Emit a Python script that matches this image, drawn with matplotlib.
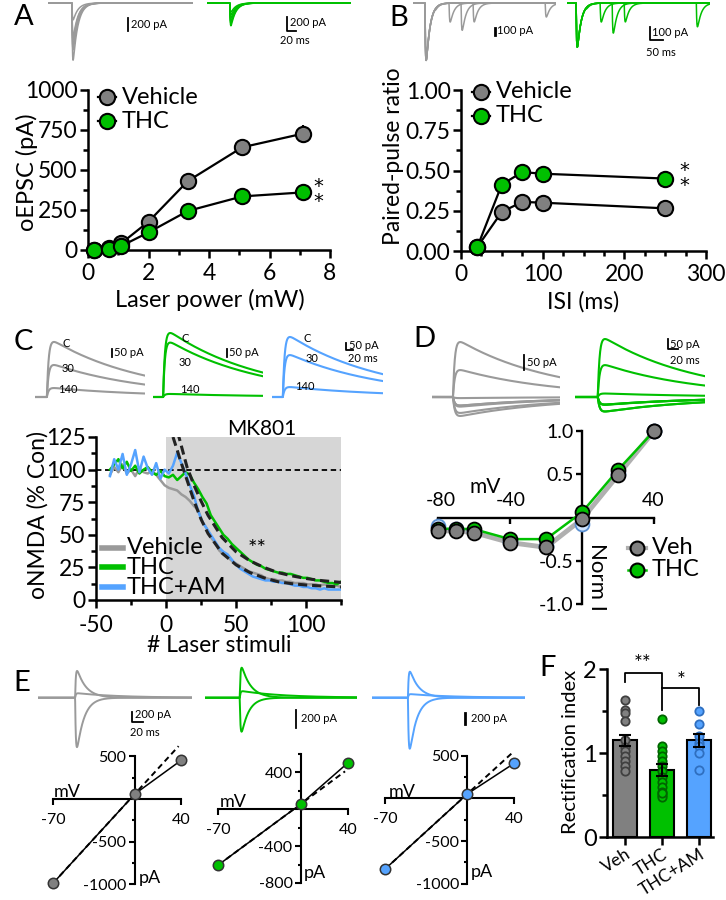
import numpy as np
import matplotlib.pyplot as plt
from matplotlib.lines import Line2D

plt.rcParams['font.family'] = ['Lato', 'DejaVu Sans']
plt.rcParams['axes.unicode_minus'] = False

GRAY = '#808080'
GRAY_TR = '#9a9a9a'
GREEN = '#00c000'
BLUE = '#55a3ff'

# ---------------- data ----------------
# A: oEPSC vs laser power
power = [0.2, 0.7, 1.1, 2.0, 3.3, 5.1, 7.1]
veh_oepsc = [0, 10, 42, 177, 431, 642, 727]
veh_oepsc_err = [0, 3, 8, 18, 22, 28, 55]
thc_oepsc = [0, 8, 25, 110, 244, 335, 360]
thc_oepsc_err = [0, 2, 5, 10, 15, 18, 22]
a_veh_tr = [-880, -720, -680, -570, -520, -260]   # example traces (pA)
a_thc_tr = [-350, -310, -280, -230, -185, -140]

# B: paired-pulse ratio
isi = [20, 50, 75, 100, 250]
veh_ppr = [0.025, 0.243, 0.305, 0.30, 0.265]
thc_ppr = [0.025, 0.413, 0.49, 0.48, 0.45]
b_veh_p1 = -820
b_thc_p1 = -630
b_veh_p2 = [-20, -270, -390, -270, -200]
b_thc_p2 = [-20, -270, -430, -270, -340]

# C: MK801 block of oNMDA
stim = np.arange(-40, 126, 3)
veh_mk = [96, 102, 98, 104, 97, 100, 95, 101, 98, 97, 99, 96, 92, 88,
          86, 85, 84, 81, 79, 76, 72, 69, 60, 55, 48, 44, 38, 35, 33, 30, 28, 26, 24, 22,
          21, 20, 19, 17, 16, 16, 15, 15, 14, 14, 13, 13, 13, 12, 12, 12, 11, 12, 11, 11, 11, 10]
thc_mk = [100, 104, 108, 101, 106, 99, 103, 97, 100, 102, 98, 96, 99, 95,
          94, 96, 92, 95, 98, 96, 90, 85, 79, 74, 65, 60, 55, 50, 47, 43, 40, 37, 34, 31,
          29, 27, 26, 24, 23, 22, 21, 21, 20, 20, 19, 18, 17, 17, 16, 15, 15, 14, 13, 13, 12, 14]
am_mk = [95, 108, 100, 112, 96, 104, 115, 98, 110, 101, 96, 105, 93, 100,
         97, 103, 113, 105, 97, 88, 80, 68, 60, 55, 50, 45, 40, 37, 35, 31, 27, 24, 22, 20,
         18, 17, 16, 15, 15, 14, 14, 13, 13, 12, 11, 11, 10, 10, 9, 9, 8, 9, 8, 8, 8, 8]
fit_x = [5, 8, 10, 15, 20, 25, 30, 40, 50, 60, 70, 80, 90, 100, 110, 125]
fit_low = [125, 115, 108, 92, 76, 62, 51, 36, 27, 21, 17, 14, 12.5, 11.5, 10.8, 10]
fit_high = [150, 130, 122, 102, 88, 76, 65, 48, 37, 30, 25, 21, 18.5, 16.5, 15, 13.5]
c_veh_tr = [344, 200, 56]   # C, 30, 140
c_thc_tr = [400, 340, 19]
c_am_tr = [375, 262, 62]

# D: NMDA I-V
d_mv = [-80, -70, -60, -40, -20, 0, 20, 40]
d_veh = [-0.155, -0.155, -0.175, -0.29, -0.345, -0.02, 0.49, 1.0]
d_thc = [-0.13, -0.13, -0.135, -0.25, -0.25, 0.06, 0.55, 1.0]
d_am = [-0.10, -0.13, -0.16, -0.28, -0.33, -0.08, 0.50, 1.0]
d_veh_max = 183
d_thc_max = 193

# E: AMPA I-V
e_mv = [-70, 0, 40]
e_veh = [-988, 59, 457]
e_thc = [-605, 54, 500]
e_am = [-828, 53, 413]
e_veh_tr = [455, 75, -840]
e_thc_tr = [510, 110, -578]
e_am_tr = [442, 60, -867]
e_tau = [15, 70, 12]

# F: rectification index
groups = ['Veh', 'THC', 'THC+AM']
ri_mean = [1.15, 0.80, 1.15]
ri_sem = [0.07, 0.07, 0.08]
ri_veh = [1.63, 1.51, 1.48, 1.38, 1.15, 1.07, 1.02, 0.96, 0.90, 0.84, 0.79]
ri_thc = [1.40, 1.08, 1.02, 0.96, 0.90, 0.84, 0.78, 0.72, 0.66, 0.60, 0.54, 0.50, 0.48, 0.52]
ri_am = [1.50, 1.35, 1.20, 1.12, 1.08, 1.0, 0.80]

# ---------------- helpers ----------------
W, H = 726, 900
fig = plt.figure(figsize=(W / 100, H / 100), dpi=100)


def px_axes(b):
    x0, y0, x1, y1 = b
    return fig.add_axes([x0 / W, 1 - y1 / H, (x1 - x0) / W, (y1 - y0) / H])


def txt(x, y, s, size=8, **kw):
    kw.setdefault('ha', 'left')
    kw.setdefault('va', 'center')
    fig.text(x / W, 1 - y / H, s, fontsize=size, **kw)


def line(pts, **kw):
    kw.setdefault('color', 'black')
    kw.setdefault('lw', 1.3)
    fig.add_artist(Line2D([p[0] / W for p in pts], [1 - p[1] / H for p in pts], **kw))


def frame(ax, lw=1.8, size=16.5, length=5.5):
    ax.spines[['top', 'right']].set_visible(False)
    for s in ['left', 'bottom']:
        ax.spines[s].set_linewidth(lw)
    ax.tick_params(which='major', length=length, width=lw, labelsize=size, pad=2)
    ax.tick_params(which='minor', length=length * 0.6, width=lw)


def labels(ax, b, xl=None, xc=None, yl=None, yc=None, size=17):
    x0, y0, x1, y1 = b
    if xl:
        ax.set_xlabel(xl, fontsize=size, va='center')
        ax.xaxis.set_label_coords((xc[0] - x0) / (x1 - x0), (y1 - xc[1]) / (y1 - y0))
    if yl:
        ax.set_ylabel(yl, fontsize=size, va='center')
        ax.yaxis.set_label_coords((yc[0] - x0) / (x1 - x0), (y1 - yc[1]) / (y1 - y0))


def trace_axes(b, base_y, ms_px, pa_px):
    x0, y0, x1, y1 = b
    ax = px_axes(b)
    ax.set_xlim(0, (x1 - x0) * ms_px)
    ax.set_ylim((base_y - y1) * pa_px, (base_y - y0) * pa_px)
    ax.axis('off')
    return ax, np.linspace(0, (x1 - x0) * ms_px, 900)


def psc(t, amp, t0, tr, td):
    s = np.clip(t - t0, 0, None)
    w = np.exp(-s / td) - np.exp(-s / tr)
    return amp * w / w.max()


def leg_marker(x, y, mfc, label, lc='black', llw=1.6, ms=11, size=18):
    line([(x - 9, y), (x + 9, y)], color=lc, lw=llw)
    fig.add_artist(Line2D([x / W], [1 - y / H], marker='o', ms=ms, mfc=mfc,
                          mec='black', mew=1.5, ls='none'))
    txt(x + 15, y, label, size=size)


def stars(x, y):
    txt(x, y, '*\n*', size=14, ha='center', family='DejaVu Sans', linespacing=0.75)


# ---------------- panel A ----------------
ax, t = trace_axes((48, 0, 193, 64), 3, 2.5, 15.4)
for a in a_veh_tr:
    ax.plot(t, psc(t, a, 60, 1.0, 12), color=GRAY_TR, lw=1.1)
ax, t = trace_axes((207, 0, 351, 64), 3, 2.5, 15.4)
for a in a_thc_tr:
    ax.plot(t, psc(t, a, 57, 1.0, 12), color=GREEN, lw=1.1)
line([(128, 18), (128, 31)])
txt(131, 25, '200 pA')
line([(287, 17), (287, 31), (296, 31)])
txt(290, 22, '200 pA')
txt(280, 40, '20 ms')

b = (88, 90, 330, 250)
ax = px_axes(b)
frame(ax)
ax.tick_params(axis='x', pad=4)
ax.errorbar(power, veh_oepsc, yerr=veh_oepsc_err, fmt='none', ecolor='black', elinewidth=1.5)
ax.errorbar(power, thc_oepsc, yerr=thc_oepsc_err, fmt='none', ecolor='black', elinewidth=1.5)
ax.plot(power, veh_oepsc, '-o', color='black', mfc=GRAY, mec='black', ms=11, mew=1.5,
        lw=1.6, clip_on=False, zorder=3)
ax.plot(power, thc_oepsc, '-o', color='black', mfc=GREEN, mec='black', ms=11, mew=1.5,
        lw=1.6, clip_on=False, zorder=4)
ax.set_xlim(0, 8)
ax.set_ylim(0, 1000)
ax.set_xticks([0, 2, 4, 6, 8])
ax.set_xticks([1, 3, 5, 7], minor=True)
ax.set_yticks([0, 250, 500, 750, 1000])
ax.set_yticks([125, 375, 625, 875], minor=True)
labels(ax, b, 'Laser power (mW)', (210, 300), 'oEPSC (pA)', (27, 172))
leg_marker(107, 97, GRAY, 'Vehicle', size=17)
leg_marker(107, 121, GREEN, 'THC', size=17)
stars(318, 194)

# ---------------- panel B ----------------
ax, t = trace_axes((413, 0, 556, 64), 3, 2.08, 14.3)
for d, p2 in zip(isi, b_veh_p2):
    ax.plot(t, psc(t, b_veh_p1, 25, 1.0, 8) + psc(t, p2, 25 + d, 1.0, 8), color=GRAY_TR, lw=1.1)
ax, t = trace_axes((567, 0, 710, 64), 3, 2.08, 14.3)
for d, p2 in zip(isi, b_thc_p2):
    ax.plot(t, psc(t, b_thc_p1, 19, 1.0, 8) + psc(t, p2, 19 + d, 1.0, 8), color=GREEN, lw=1.1)
line([(495, 28), (495, 35)], lw=2)
txt(497, 31, '100 pA')
line([(650, 27), (650, 40), (663, 40)])
txt(652, 33, '100 pA')
txt(646, 52, '50 ms')

b = (461, 90, 706, 251)
ax = px_axes(b)
frame(ax)
ax.tick_params(axis='x', pad=4)
ax.plot(isi, veh_ppr, '-o', color='black', mfc=GRAY, mec='black', ms=11, mew=1.5,
        lw=1.6, clip_on=False, zorder=3)
ax.plot(isi, thc_ppr, '-o', color='black', mfc=GREEN, mec='black', ms=11, mew=1.5,
        lw=1.6, clip_on=False, zorder=4)
ax.set_xlim(0, 300)
ax.set_ylim(0, 1)
ax.set_xticks([0, 100, 200, 300])
ax.set_xticks(np.arange(25, 300, 25), minor=True)
ax.set_yticks([0, 0.25, 0.5, 0.75, 1.0])
ax.set_yticklabels(['0.00', '0.25', '0.50', '0.75', '1.00'])
ax.set_yticks([0.125, 0.375, 0.625, 0.875], minor=True)
labels(ax, b, 'ISI (ms)', (583, 302), 'Paired-pulse ratio', (394, 156), size=16.5)
leg_marker(481, 92, GRAY, 'Vehicle', size=17)
leg_marker(481, 116, GREEN, 'THC', size=17)
stars(684, 178)

# ---------------- panel C ----------------
for bx, amps, col, t0 in [((35, 325, 145, 400), c_veh_tr, GRAY_TR, 34),
                          ((153, 325, 263, 400), c_thc_tr, GREEN, 29),
                          ((272, 325, 383, 400), c_am_tr, BLUE, 31)]:
    ax, t = trace_axes(bx, 397, 2.86, 6.25)
    for a in amps:
        ax.plot(t, psc(t, a, t0, 5, 270), color=col, lw=1.5)
for x, y, s in [(66, 343, 'C'), (68, 369, '30'), (68, 389, '140'),
                (185, 338, 'C'), (185, 363, '30'), (190, 389, '140'),
                (307, 338, 'C'), (312, 359, '30'), (305, 387, '140')]:
    txt(x, y, s, size=8, ha='center')
line([(112, 349), (112, 357)])
txt(114, 353, '50 pA')
line([(227, 349), (227, 357)])
txt(229, 353, '50 pA')
line([(346, 343), (346, 350), (353, 350)])
txt(349, 346, '50 pA')
txt(348, 359, '20 ms')

b = (96, 437, 341, 600)
ax = px_axes(b)
frame(ax)
ax.tick_params(axis='x', pad=5)
ax.axvspan(0, 125, color='#d6d6d6', lw=0, zorder=0)
ax.axhline(100, color='black', ls=(0, (3, 2)), lw=1.3, zorder=1)
ax.plot(stim, veh_mk, color=GRAY_TR, lw=1.8, zorder=2)
ax.plot(stim, thc_mk, color=GREEN, lw=1.8, zorder=3)
ax.plot(stim, am_mk, color=BLUE, lw=1.8, zorder=4)
ax.plot(fit_x, fit_low, color='#222222', ls=(0, (3, 1.6)), lw=2.2, zorder=5)
ax.plot(fit_x, fit_high, color='#222222', ls=(0, (3, 1.6)), lw=2.2, zorder=5)
ax.set_xlim(-50, 125)
ax.set_ylim(0, 125)
ax.set_xticks([-50, 0, 50, 100])
ax.set_xticks([-25, 25, 75, 125], minor=True)
ax.set_yticks([0, 25, 50, 75, 100, 125])
ax.set_yticks(np.arange(12.5, 125, 25), minor=True)
labels(ax, b, '# Laser stimuli', (219, 646), 'oNMDA (% Con)', (38, 515), size=16.5)
txt(262, 429, 'MK801', size=15, ha='center')
txt(257, 549, '**', size=16, ha='center')
for y, col, s in [(548, GRAY_TR, 'Vehicle'), (567, GREEN, 'THC'), (587, BLUE, 'THC+AM')]:
    line([(102, y), (123, y)], color=col, lw=4)
    txt(127, y, s, size=17)

# ---------------- panel D ----------------
for bx, vals, amp, col, t0 in [((432, 330, 560, 420), d_veh, d_veh_max, GRAY_TR, 35),
                               ((575, 330, 705, 420), d_thc, d_thc_max, GREEN, 38)]:
    ax, t = trace_axes(bx, 397, 1.67, 3.33)
    for v in vals:
        ax.plot(t, psc(t, v * amp, t0, 3, 160), color=col, lw=1.5)
line([(524, 355), (524, 370)])
txt(527, 363, '50 pA')
line([(668, 339), (668, 349), (678, 349)])
txt(670, 344, '50 pA')
txt(670, 361, '20 ms')

b = (438, 431, 654, 604)
ax = px_axes(b)
frame(ax, lw=1.7, size=14)
ax.spines['left'].set_position(('data', 0))
ax.spines['bottom'].set_position(('data', 0))
ax.plot(d_mv, d_veh, color='#b0b0b0', lw=3.5, zorder=2, clip_on=False)
ax.plot(d_mv, d_thc, color=GREEN, lw=1.8, zorder=3, clip_on=False)
ax.plot(d_mv, d_am, 'o', mfc='#cfe5ff', mec='#5a8fd0', ms=10, mew=1.3, zorder=4, clip_on=False)
ax.plot(d_mv, d_thc, 'o', mfc=GREEN, mec='black', ms=10, mew=1.3, zorder=5, clip_on=False)
ax.plot(d_mv, d_veh, 'o', mfc=GRAY, mec='black', ms=10, mew=1.3, zorder=6, clip_on=False)
ax.set_xlim(-80, 40)
ax.set_ylim(-1, 1)
ax.set_xticks([-80, -40, 40])
ax.set_xticklabels([])
ax.set_yticks([-1, -0.5, 0.5, 1])
ax.set_yticklabels(['-1.0', '-0.5', '0.5', '1.0'])
ax.tick_params(length=4)
for x, s in [(441, '-80'), (511, '-40'), (653, '40')]:
    txt(x, 500, s, size=14, ha='center')
txt(485, 487, 'mV', size=15, ha='center')
txt(597, 577, 'Norm I', size=16, ha='center', rotation=-90)
leg_marker(637, 548, GRAY, 'Veh', lc='#b0b0b0', llw=3, ms=10, size=17)
leg_marker(637, 570, GREEN, 'THC', lc=GREEN, llw=1.8, ms=10, size=17)

# ---------------- panel E ----------------
for bx, amps, col, t0 in [((38, 655, 192, 755), e_veh_tr, GRAY_TR, 62),
                          ((205, 655, 357, 755), e_thc_tr, GREEN, 58),
                          ((372, 655, 525, 755), e_am_tr, BLUE, 60)]:
    ax, t = trace_axes(bx, 697.7, 1.67, 17)
    for a, td in zip(amps, e_tau):
        ax.plot(t, psc(t, a, t0, 1.2, td), color=col, lw=1.4)
line([(132, 712), (132, 722), (143, 722)])
txt(135, 715, '200 pA')
txt(130, 733, '20 ms')
line([(296, 710), (296, 728)])
txt(301, 718, '200 pA')
line([(465, 713), (465, 724)], lw=2)
txt(471, 718, '200 pA')

e_specs = [((53, 756.4, 181.5, 884.3), e_veh, GRAY, (-1000, 500), [-1000, -500, 500], 250,
            (67, 792), (150, 878)),
           ((218.3, 753.5, 348, 883), e_thc, GREEN, (-800, 600), [-800, -400, 400], 200,
            (233, 802), (315, 873)),
           ((385, 755.8, 514.3, 883.8), e_am, BLUE, (-1000, 500), [-1000, -500, 500], 250,
            (402, 792), (482, 872))]
for bx, vals, col, ylim, yt, minor, mv_pos, pa_pos in e_specs:
    ax = px_axes(bx)
    frame(ax, lw=1.5, size=11.5, length=4)
    ax.spines['left'].set_position(('data', 0))
    ax.spines['bottom'].set_position(('data', 0))
    slope, icpt = np.polyfit(e_mv[:2], vals[:2], 1)
    xs = np.array([-70, 37.5])
    ax.plot(xs, slope * xs + icpt, color='black', ls=(0, (3, 2)), lw=1.4, zorder=2, clip_on=False)
    ax.plot(e_mv, vals, '-o', color='black', mfc=col, mec='#333333', ms=7.5, mew=1.1,
            lw=1.1, zorder=3, clip_on=False)
    ax.set_xlim(-70, 40)
    ax.set_ylim(*ylim)
    ax.set_xticks([-70, 40])
    ax.tick_params(axis='x', pad=6)
    ax.set_yticks(yt)
    ax.set_yticks([v for v in np.arange(ylim[0], ylim[1] + 1, minor) if v not in yt and v != 0],
                  minor=True)
    txt(mv_pos[0], mv_pos[1], 'mV', size=13, ha='center')
    txt(pa_pos[0], pa_pos[1], 'pA', size=13, ha='center')

# ---------------- panel F ----------------
b = (607, 669, 713, 837)
ax = px_axes(b)
frame(ax, size=17)
ax.tick_params(axis='x', pad=1)
cols = [GRAY, GREEN, BLUE]
edges = ['#404040', '#006400', '#2f6fc0']
ax.bar(range(3), ri_mean, width=0.65, color=cols, edgecolor='black', lw=1.5, zorder=1)
for i, pts in enumerate([ri_veh, ri_thc, ri_am]):
    ax.plot([i] * len(pts), pts, 'o', mfc=cols[i], mec=edges[i], ms=6, mew=1.3, zorder=2,
            clip_on=False)
ax.errorbar(range(3), ri_mean, yerr=ri_sem, fmt='none', ecolor='black', elinewidth=1.5,
            capsize=4, capthick=1.5, zorder=3)
ax.plot([0, 0, 1, 1], [1.845, 1.956, 1.956, 1.512], color='black', lw=1.3, clip_on=False)
ax.plot([1, 2, 2], [1.77, 1.77, 1.571], color='black', lw=1.3, clip_on=False)
ax.set_xlim(-0.486, 2.378)
ax.set_ylim(0, 2)
ax.set_yticks([0, 1, 2])
ax.set_yticks([0.5, 1.5], minor=True)
ax.set_xticks(range(3))
ax.set_xticklabels(groups, rotation=32, ha='right', rotation_mode='anchor', fontsize=12.5)
labels(ax, b, yl='Rectification index', yc=(571, 752), size=14.5)
txt(643, 664, '**', size=15, ha='center')
txt(681, 681, '*', size=15, ha='center')

# ---------------- panel letters ----------------
for x, y, s in [(24, 17, 'A'), (399, 18, 'B'), (23, 342, 'C'), (424, 339, 'D'),
                (22, 683, 'E'), (548, 668, 'F')]:
    txt(x, y, s, size=21, ha='center')

fig.savefig('out.png', dpi=100)
